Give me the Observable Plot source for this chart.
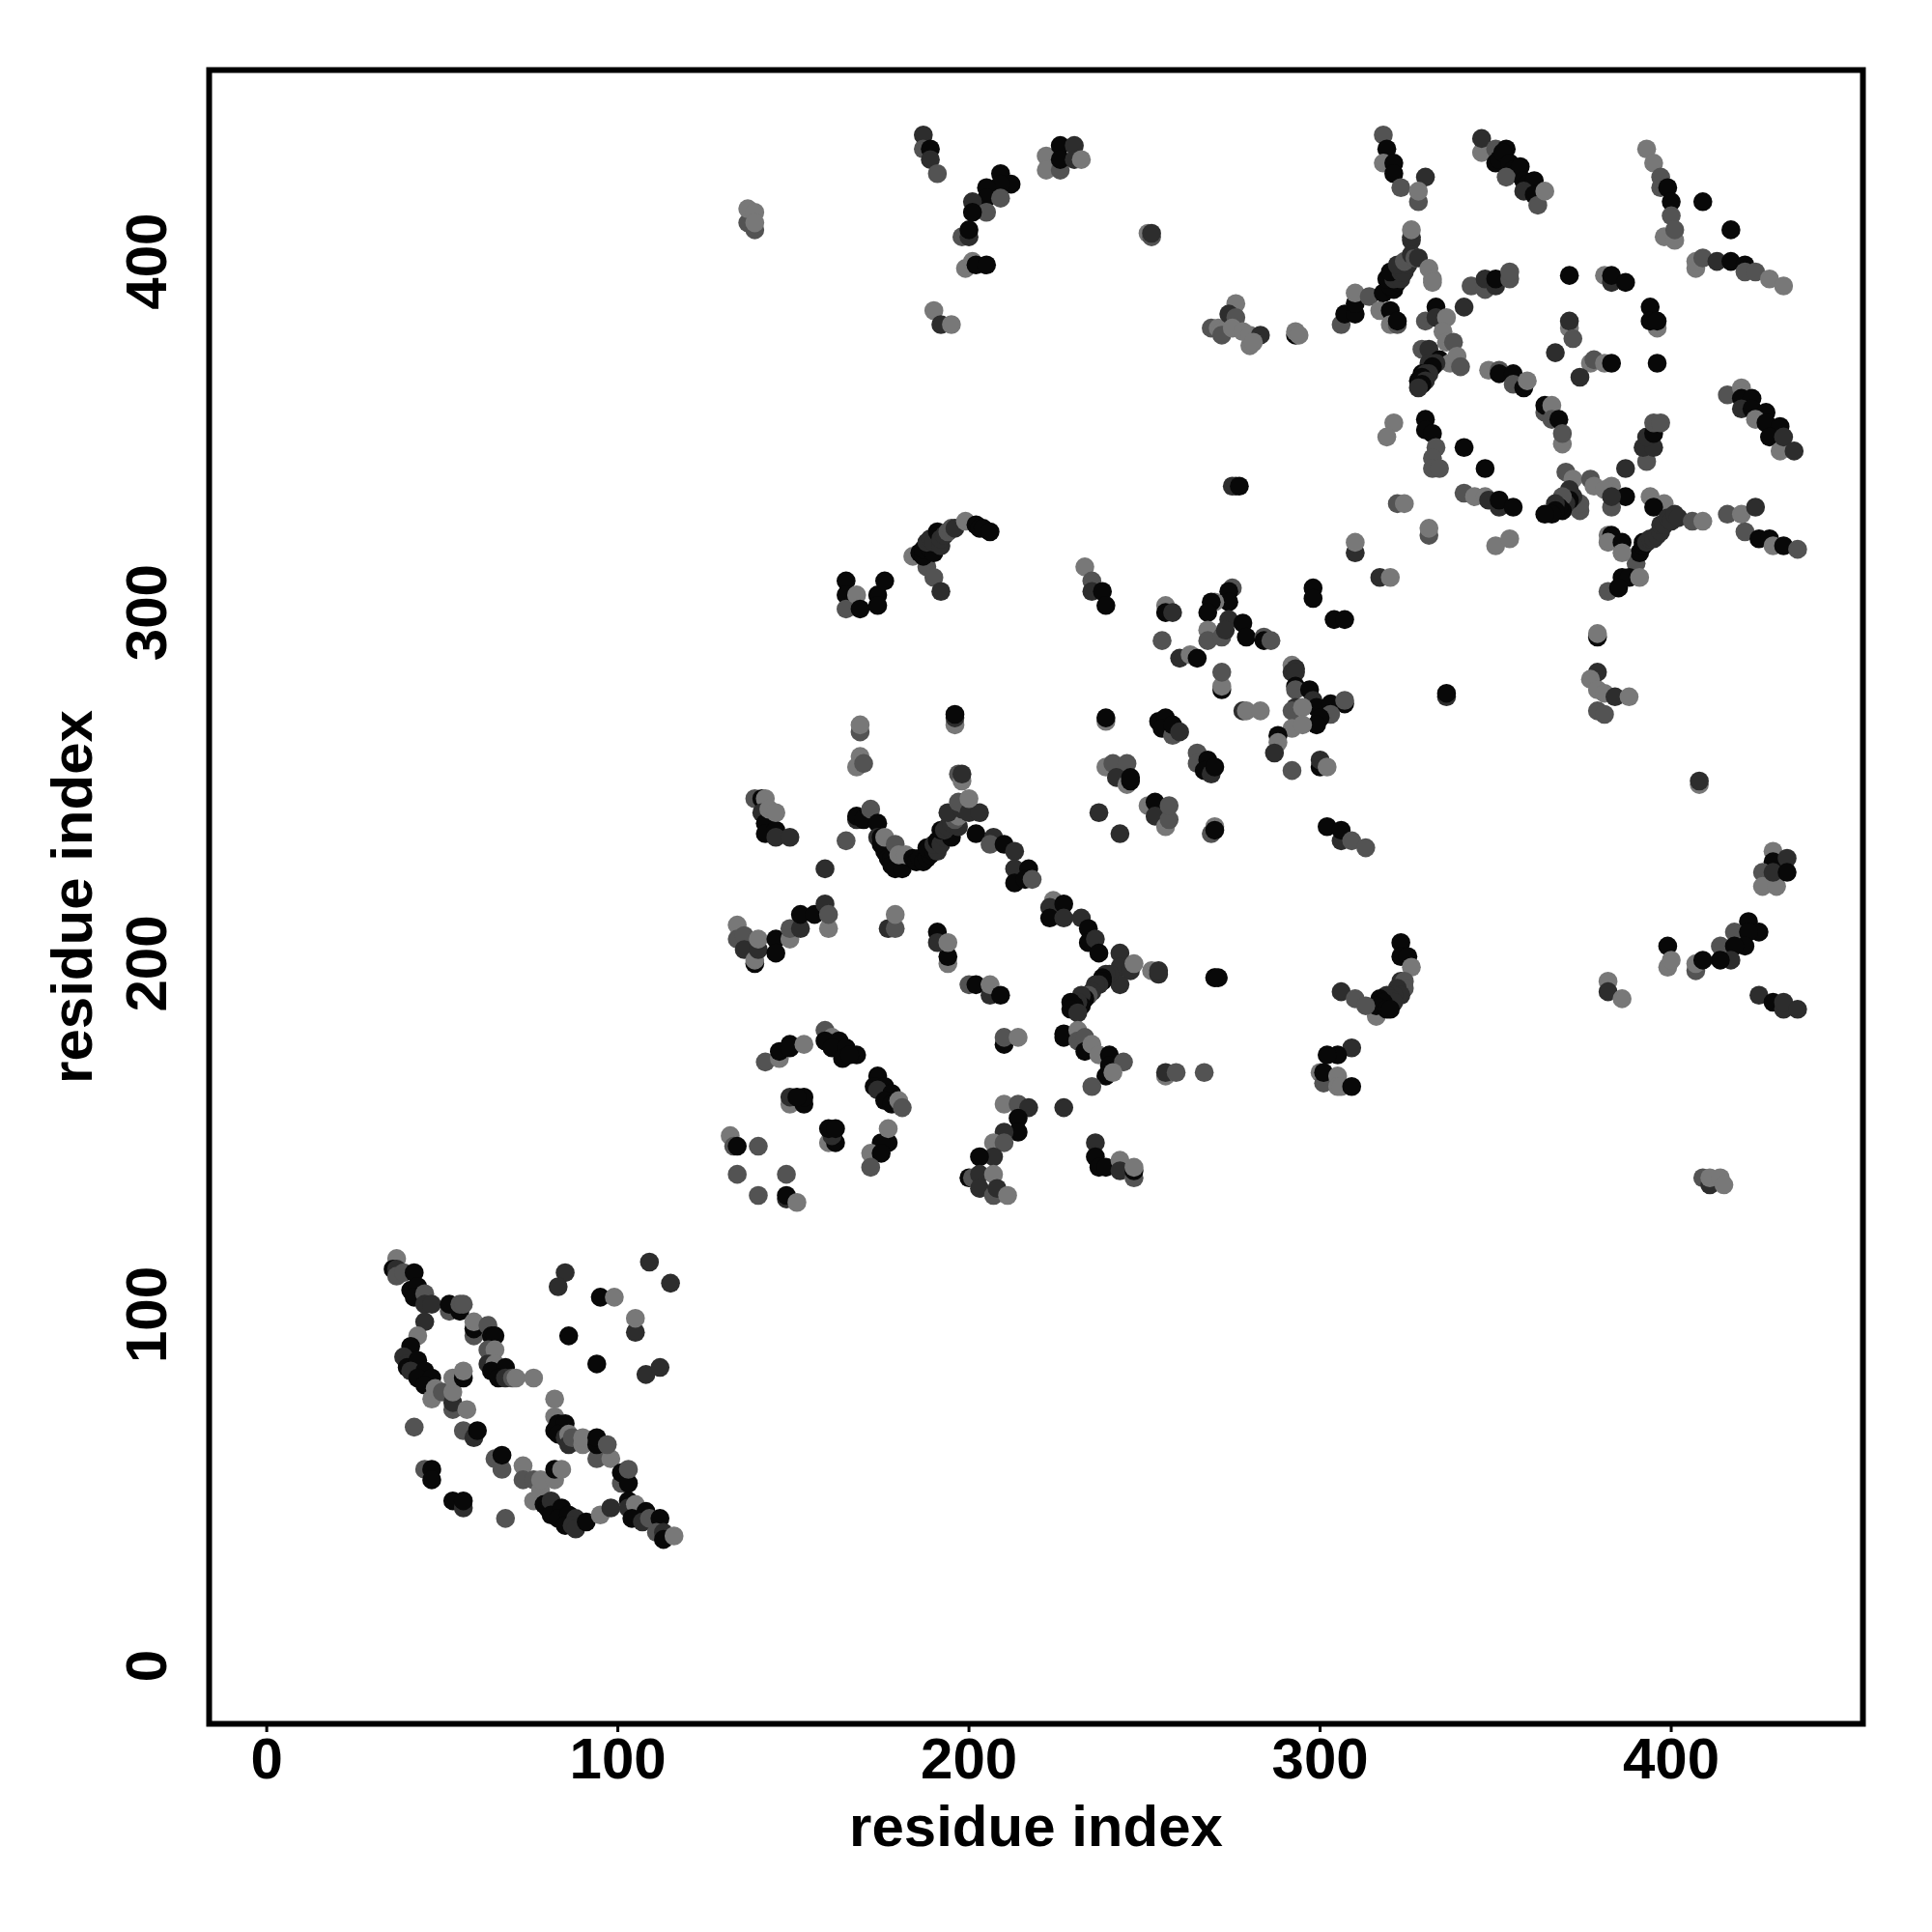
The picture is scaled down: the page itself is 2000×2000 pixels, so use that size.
<!DOCTYPE html>
<html>
<head>
<meta charset="utf-8">
<script src="https://cdn.jsdelivr.net/npm/d3@7"></script>
<script src="https://cdn.jsdelivr.net/npm/@observablehq/plot@0.6"></script>
<style>html,body{margin:0;padding:0;background:#fff}svg{display:block}</style>
</head>
<body>
<div id="chart"></div>
<script>
// Each list holds i, j, shade triples (shade 0 = darkest, 3 = lightest)
const tickValues = [0, 100, 200, 300, 400];
const axisTitle = "residue index";

const clusterA1 = [37,116,3,36,113,0,37,113,1,37,111,2,39,112,2,42,112,0,41,107,0,43,108,0,42,105,0,45,106,2,45,103,1,47,103,1,52,101,2,52,103,0,55,101,0,55,103,2,56,103,2];
const clusterA2 = [59,94,2,59,96,0,59,98,3,63,97,2,64,94,0,65,94,0,63,90,2,65,90,3,63,86,1,65,86,3,64,84,0,68,85,0,66,82,0,68,82,1,70,82,2,71,82,3,76,82,3];
const clusterA3 = [45,98,1,43,94,3,41,91,0,39,88,1,40,86,1,40,85,0,43,87,0,41,84,1,45,84,0,43,82,0,47,82,0,45,80,0,47,76,3,48,79,3,50,78,2,53,73,2,53,75,1,53,78,3,57,73,3,53,82,3,56,82,0,56,84,3];
const clusterA4 = [42,68,2,56,67,2,59,65,1,60,67,0,65,59,2,67,56,2,67,60,0,73,57,3,73,53,2,76,53,2,76,47,3,78,50,3,78,53,3,82,53,3,82,56,0,84,56,3];
const clusterA5 = [82,76,3,82,71,3,82,67,0,83,69,0,85,69,0,83,66,0,85,65,1,86,66,3,86,63,1,87,65,2,90,63,3,90,65,3,94,59,2,94,63,0,94,65,0,98,59,3,97,63,2,101,52,2,101,55,0,103,52,0,103,56,2];
const clusterA6 = [79,46,0,80,45,0,81,47,1,81,43,0,84,45,0,83,42,0,86,43,0,85,40,0,88,42,1,87,40,1,88,39,1,91,41,0,95,43,3,98,45,1,103,47,0,103,45,1,105,46,3,104,42,0,108,44,0,107,41,1,109,42,2,112,42,0,111,38,2,113,38,1,113,36,0,116,37,3];
const clusterA7 = [85,112,1,83,108,1,95,105,0,99,105,3,109,115,1,115,109,1,105,95,1,105,99,3,86,94,0,94,86,0,108,83,1,112,85,1,45,56,2,47,56,0,47,53,0,53,47,0,56,45,1,56,47,0,68,42,2];

const clusterB1 = [196,268,3,196,270,1,196,271,0,169,266,2,169,268,3,169,259,3,168,256,3,170,257,2,197,254,2,198,252,3,198,254,1];
const clusterB2 = [139,247,2,141,247,0,142,247,3,141,243,1,142,240,0,142,237,0,145,238,0,145,236,1,149,236,1,143,244,3,145,243,3,165,235,2,159,227,1];
const clusterB3 = [168,241,1,168,242,0,170,241,0,172,244,2,174,240,0,174,236,1,175,236,0,175,234,0,176,232,0,177,230,0,178,230,0,178,228,0,176,236,3,179,234,2,179,227,0,181,227,0,180,231,3,182,231,3];
const clusterB4 = [184,230,0,185,229,0,186,230,0,187,229,0,188,230,0,189,231,0,188,233,0,190,232,0,191,232,1,190,234,1,191,235,0,192,234,1,193,236,1,192,238,0,195,236,0,193,238,1,194,239,1,195,240,1,197,239,1,196,241,2,197,242,3,194,243,1,198,244,1,199,245,2,197,246,2,200,243,1,203,243,1,200,247,3];
const clusterB5 = [202,237,0,207,236,1,206,234,2,210,234,0,213,232,1,213,227,1,217,227,0,213,223,0,216,224,0,218,224,2];
const clusterB6 = [224,218,3,223,216,1,223,213,0,227,217,0,227,213,1,232,213,1,234,210,0,234,206,0,236,207,1,237,203,0];
const clusterB7 = [243,203,1,243,199,1,246,198,1,247,200,3,243,194,1,240,197,1,239,197,1,238,196,0,238,195,0,237,194,1,236,194,1,235,192,1,234,191,2,233,190,0,232,191,1,232,188,0,231,189,1,230,188,0,229,189,0,229,187,0,231,186,1];
const clusterB8 = [227,180,0,227,179,0,231,181,3,231,178,2,233,179,2,233,175,0,235,177,3,237,174,3,240,174,0,240,171,0,244,172,2,239,168,0,241,169,3,235,165,2,227,159,1];
const clusterB9 = [210,177,0,210,179,2,214,179,3,200,194,2,202,194,0,206,191,1,206,194,3,209,191,0,194,200,3,194,202,0,191,209,0,191,206,1,194,206,3,177,210,1,179,210,2,179,214,3];

const clusterC1 = [134,211,3,134,207,2,136,208,2,136,204,1,139,200,0,139,201,3,140,204,1,140,207,3,145,207,0,145,203,0,149,207,3,149,210,2,152,210,1,152,214,0,156,214,0,159,217,1,160,210,3,160,214,2];
const clusterC2 = [142,172,2,146,173,3,146,175,0,149,177,0,149,176,0,153,177,3,159,181,2,161,179,3,159,178,0,163,178,0,161,176,0,165,176,0,164,173,0,168,174,0,166,174,0];
const clusterC3 = [174,168,0,173,165,0,176,165,0,174,164,1,178,163,0,176,161,0,178,160,0,180,161,3,181,159,2,149,160,3,149,162,1,153,160,0,153,162,0,151,162,0];
const clusterC4 = [160,149,3,162,149,0,161,151,1,160,153,0,162,153,0,177,149,0,175,149,0,172,146,3,175,146,0,177,153,3,172,142,2];
const clusterC5 = [132,151,3,133,148,2,134,148,0,140,148,2,134,140,2,148,140,2,140,134,2,148,133,1,148,134,0,151,132,3];
const clusterC6 = [210,160,3,214,160,2,217,159,1,214,156,0,214,152,0,210,152,1,207,149,3,210,149,2,207,145,1,203,145,0,200,139,0,201,139,2,203,140,1,207,140,3,203,136,1,207,134,2,208,136,1,211,134,3];
const clusterC7 = [236,149,1,236,145,0,237,142,0,239,142,0,243,144,3,243,141,1,247,139,2,247,141,0,247,142,3];

const clusterD1 = [137,411,2,139,409,2,137,415,3,139,414,3,139,411,3,187,436,1,187,432,2,189,432,0,189,429,1,191,425,2];
const clusterD2 = [209,425,0,212,422,0,209,422,0,205,421,0,205,418,0,209,418,2,201,417,1,205,414,2,201,414,0,198,407,2,200,407,1,200,409,0,199,398,3,201,400,3,202,399,0,205,399,0,190,386,3,192,382,1,195,382,3];
const clusterD3 = [222,430,3,222,426,3,226,426,2,226,433,0,230,433,1,226,429,0,230,429,1,232,429,3,251,408,3,252,407,2,252,408,1];
const clusterD4 = [165,309,0,165,305,0,165,301,2,168,305,3,169,301,0,174,305,0,174,302,0,176,309,0];
const clusterD5 = [184,316,3,188,313,2,190,310,2,192,306,1,186,317,0,187,316,0,187,318,0,189,318,0,190,317,0,188,320,1,189,321,1,190,320,1,192,319,1,191,323,0,192,321,1,193,322,1,194,323,2,195,324,2,196,324,1,199,326,3,202,325,0,203,324,0,204,324,0,206,323,0,275,336,1,276,336,1,277,336,0];
const clusterD6 = [233,313,3,235,309,2,235,306,1,238,306,0,239,302,0,256,302,3,256,300,0,258,300,1,255,292,2];

const clusterE1 = [269,381,2,271,381,3,272,380,3,272,379,2,276,388,3,274,385,1,276,384,2,275,381,3,278,380,3,280,376,3,280,379,3,283,379,1,281,377,3,293,379,0,293,380,3,294,379,3];
const clusterE2 = [306,382,2,307,385,0,310,385,0,310,388,0,310,391,3,314,390,2,317,386,3,320,386,0,320,382,3,322,382,2,322,383,0];
const clusterE3 = [318,391,0,321,392,0,320,393,0,319,395,0,322,394,0,321,395,1,323,395,1,320,397,0,323,397,1,324,397,1,322,399,1,325,399,1,324,400,2,326,402,1,327,401,2,328,401,1,331,398,3,332,395,3,332,394,3,326,406,1,326,407,1,326,409,3];
const clusterE4 = [318,436,2,319,432,0,318,428,3,321,428,0,321,425,0,323,421,2,330,424,1,328,417,2,328,420,3];
const clusterE5 = [346,431,3,346,435,1,350,432,2,353,432,0,350,428,0,351,429,0,352,431,0,354,428,0,355,426,0,356,425,0,357,427,0,353,424,2,358,423,0,359,422,0,360,421,0,361,423,0,358,420,1,361,419,0,362,416,2,364,420,3];
const clusterE6 = [393,432,3,395,428,3,397,424,2,397,421,2,399,421,0,400,417,0,400,413,2,398,407,3,401,406,3,401,409,2,409,417,0,417,409,0];
const clusterE7 = [407,398,3,407,400,3,409,401,2,413,400,1,417,400,0,421,399,0,421,397,2,424,397,2,428,395,3,432,393,3];
const clusterE8 = [343,393,2,347,392,2,347,395,1,350,393,1,350,395,0,354,395,2,354,397,2,341,387,1,371,396,0,381,396,3,383,394,1,383,396,0,387,394,0,394,387,0,396,381,3,394,383,0,396,383,0];
const clusterE9 = [371,381,3,371,383,1,372,378,2,367,374,1,377,371,3,378,372,2,381,371,3,383,371,0,374,367,1,396,371,0];

const clusterF1 = [333,387,0,330,383,2,333,384,1,336,384,3,335,380,3,336,377,3,338,377,2,329,375,2,331,375,1,334,372,0,331,371,1,337,371,3,339,373,3,340,370,2,333,371,1,332,370,0,329,368,0,330,368,1,331,368,1,329,367,0,328,366,0,330,366,1,329,365,0,328,364,1];
const clusterF2 = [348,369,3,351,369,2,351,368,0,355,368,0,355,365,2,358,364,0,359,366,3,364,357,2,364,359,0,366,359,3,366,355,2,368,355,0,369,348,3,369,351,2];
const clusterF3 = [416,362,2,420,364,3,420,361,0,423,361,0,420,358,1,423,358,0,427,357,0,424,355,3,427,354,0,431,353,0,428,350,0,431,346,3,432,350,1,435,346,1];
const clusterF4 = [330,355,0,330,352,0,332,351,0,333,347,2,332,344,2,332,341,2,334,341,2,321,354,3,319,350,3,341,347,0,347,341,0];
const clusterF5 = [341,334,2,344,333,3,347,333,3,348,332,1,351,330,1,351,332,0,355,330,0,322,331,2,324,331,3,331,322,2,331,324,3,310,317,1,310,320,3,350,319,3,354,321,3,317,310,1,320,310,3,298,307,0,298,304,0,304,298,0,307,298,0,379,293,0,379,294,3];
const clusterF6 = [370,340,2,372,338,3,377,338,2,378,336,3,383,336,3,381,335,3,387,333,0,383,330,2,383,333,1,374,329,2,374,331,2,372,333,1,371,335,1,371,332,0,370,331,1,369,333,2,369,329,0,368,330,0,367,331,1,367,329,0,366,328,0,364,328,0,387,341,1];
const clusterF7 = [393,343,2,392,347,1,395,347,1,393,350,1,395,351,0,395,354,2,397,354,2,394,333,3,398,331,3,395,330,0,390,314,2,391,317,0,392,319,0,392,320,0,393,320,1,394,321,1,395,321,1,396,322,1,397,323,1,397,325,1,398,325,1,399,327,1,400,326,1,401,328,1,402,327,1,406,326,2,409,326,3];
const clusterF8 = [416,328,2,420,328,3,424,330,1,421,323,2,425,321,0,428,321,0,429,319,3,432,319,0,436,318,2,382,322,3,383,322,0,382,320,3,386,320,0,386,317,3,386,310,0,388,310,0,391,310,3,382,306,2,385,307,0];

const clusterG1 = [275,307,2,274,306,0,274,303,0,270,303,3,269,303,0,268,300,0,268,295,3,274,298,1,278,297,0,268,292,2,272,293,2,273,295,1,279,293,0,284,293,2,284,292,0,286,292,2,260,287,1,263,288,3,265,287,0,272,278,0,272,279,3,272,283,2,278,272,1,279,272,3,283,272,3];
const clusterG2 = [292,285,3,292,283,1,293,284,1,293,283,1,293,279,0,293,278,2,297,278,0,298,275,1,299,273,0,303,274,0,307,274,0,307,275,2,303,271,2,300,270,0,299,268,0,293,273,1,292,272,2,295,273,3,292,267,3,295,268,3,288,265,0,288,263,3,287,260,1,292,255,2,300,256,0,300,258,1,302,256,3,336,276,1,336,277,0];
const clusterG3 = [239,269,3,239,270,0,254,269,0,256,270,0,255,267,0,258,265,2,258,268,0,260,266,1,265,260,2,265,257,2,268,258,0,267,255,0,269,254,1,270,256,0];
const clusterG4 = [239,256,3,241,257,2,245,257,2,242,253,1,245,251,3,246,252,0,246,253,0,251,245,3,253,246,0,253,242,1,256,239,3,257,241,2,257,245,2,237,243,1,243,237,1,269,237,2,270,239,3,270,238,0,302,239,0,306,235,1,306,238,0,309,235,2,313,233,2];

const clusterH1 = [379,283,1,377,281,3,379,278,3,381,277,3,379,272,2,381,271,2,384,276,1,388,276,3,408,251,3,408,252,1];
const clusterH2 = [429,232,3,429,229,0,426,226,2,426,222,3,430,222,3,433,230,1,429,226,1,433,226,0];
const clusterH3 = [422,212,0,425,209,0,418,209,2,422,209,0,414,205,2,421,205,0,418,205,0,417,201,1,414,201,0,407,198,2,407,200,3,409,201,0,399,205,0,399,199,3,400,201,3,382,195,3,382,192,1,386,190,3,425,191,1,429,189,0,432,187,1,432,189,1,436,187,1];
const clusterH4 = [409,139,2,411,137,1,411,139,3,414,139,3,415,137,3];
const clusterH5 = [323,206,0,323,202,0,325,202,0,326,199,3,322,192,3,323,195,1,324,195,2,324,193,2,322,193,1,323,191,1,321,191,1,319,191,1,320,190,1,321,189,1,316,185,3,317,190,0,318,189,0,316,188,0,319,187,0,320,187,0,306,192,1,310,190,2,313,188,2];
const clusterH6 = [309,176,1,305,174,0,302,174,0,300,169,3,301,166,2,301,169,0,305,168,3,305,165,3,306,165,3,309,165,0,270,196,3,270,196,0,271,196,0,267,169,2,256,168,3,256,169,1,259,169,2,252,198,3,254,197,1,254,198,1];

const allClusters = [
  clusterA1, clusterA2, clusterA3, clusterA4, clusterA5, clusterA6, clusterA7,
  clusterB1, clusterB2, clusterB3, clusterB4, clusterB5, clusterB6, clusterB7, clusterB8, clusterB9,
  clusterC1, clusterC2, clusterC3, clusterC4, clusterC5, clusterC6, clusterC7,
  clusterD1, clusterD2, clusterD3, clusterD4, clusterD5, clusterD6,
  clusterE1, clusterE2, clusterE3, clusterE4, clusterE5, clusterE6, clusterE7, clusterE8, clusterE9,
  clusterF1, clusterF2, clusterF3, clusterF4, clusterF5, clusterF6, clusterF7, clusterF8,
  clusterG1, clusterG2, clusterG3, clusterG4,
  clusterH1, clusterH2, clusterH3, clusterH4, clusterH5, clusterH6
];
const contacts = [];
for (const c of allClusters) for (let k = 0; k < c.length; k += 3) contacts.push({i: c[k], j: c[k + 1], shade: c[k + 2]});

const font = "'Liberation Sans', Arial, sans-serif";
const chart = Plot.plot({
  width: 2000,
  height: 2000,
  marginLeft: 216,
  marginRight: 72,
  marginTop: 72,
  marginBottom: 216,
  style: {background: "#fff", fontFamily: font, color: "#000"},
  x: {domain: [-16.4, 454.6], label: null},
  y: {domain: [-16.5, 454.5], label: null},
  color: {type: "linear", domain: [0, 3], range: ["#080808", "#787878"], legend: false},
  marks: [
    Plot.dot(contacts, {x: "i", y: "j", fill: "shade", r: 9.8}),
    Plot.axisX({ticks: tickValues, tickSize: 9, strokeWidth: 3, tickPadding: 5, fontSize: 60, fontWeight: 700, fill: "#000", label: axisTitle, labelAnchor: "center", labelOffset: 126, labelArrow: "none"}),
    Plot.axisY({ticks: tickValues, tickSize: 9, strokeWidth: 3, tickPadding: 36, fontSize: 60, fontWeight: 700, fill: "#000", textAnchor: "middle", lineAnchor: "bottom", rotate: -90, label: axisTitle, labelAnchor: "center", labelOffset: 164, labelArrow: "none"}),
    Plot.frame({stroke: "#000", strokeWidth: 6})
  ]
});
document.getElementById("chart").appendChild(chart);
</script>
</body>
</html>
